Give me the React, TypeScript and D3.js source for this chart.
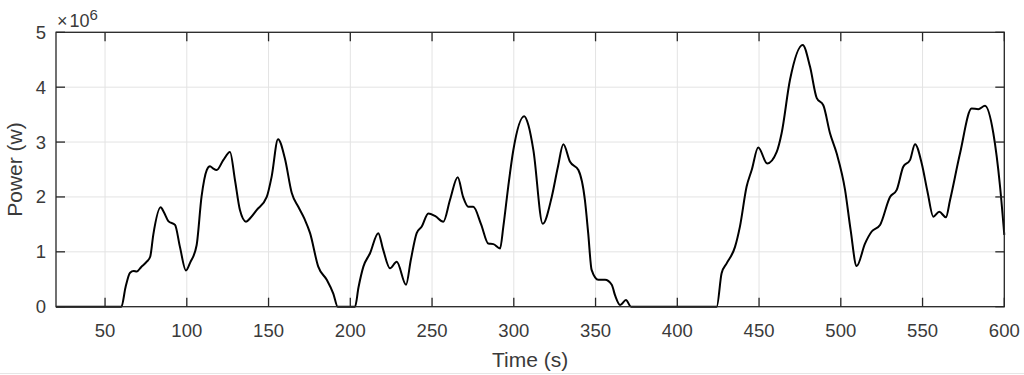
import React from "react";
import * as d3 from "d3";

// Time (s)
const timeS: number[] = [
  20, 60, 62.5, 65.3, 67.5, 69.4, 72, 75.5, 77.6, 79.5, 84, 86, 88.7, 92.8, 95.8, 99.5, 102, 106, 109, 112.2, 114.2, 116, 118.3, 122.3, 126.4, 129.5, 132.5, 136.2, 139, 142.7, 148.9, 151.9, 155.8, 160, 164.2, 168.2, 172, 175.4, 180.4, 185.6, 189.6, 192.3,
  202.9, 205, 208, 212, 217.1, 220, 224.3, 228.4, 234.1, 237, 240.6, 243.7, 247.7, 252, 256.9, 261, 265.7, 269, 272.2, 275.2, 280, 284.4, 287.5, 291.6, 293.6, 296.6, 299.7, 306.4, 309, 312, 317.7, 323.2, 327, 330.3, 334.4, 339.5, 343.5, 345.5, 347.6, 351.7, 355.8, 359.9, 362, 365, 368.6, 371.7,
  424.1, 427.1, 430.2, 435.3, 438.3, 442.4, 445.5, 449.5, 455, 460.8, 463.8, 468.9, 476.7, 481.2, 485.3, 489.3, 493.4, 497.5, 502.6, 506, 509.7, 514.8, 518.9, 524, 530.1, 534.2, 538.2, 542.3, 545.4, 549.5, 553, 556.6, 560.2, 564.3, 566.8, 572.9, 580, 584.1, 588.2, 593.3, 597.4, 600,
];

// Power (x 10^6 W)
const powerMW: number[] = [
  0, 0, 0.35, 0.62, 0.65, 0.64, 0.72, 0.82, 0.91, 1.31, 1.81, 1.72, 1.56, 1.49, 1.09, 0.66, 0.8, 1.12, 2.0, 2.49, 2.56, 2.52, 2.49, 2.67, 2.82, 2.3, 1.76, 1.55, 1.62, 1.76, 2.0, 2.37, 3.05, 2.7, 2.07, 1.82, 1.6, 1.34, 0.73, 0.49, 0.24, 0.0,
  0, 0.35, 0.73, 0.97, 1.34, 1.05, 0.7, 0.82, 0.4, 0.85, 1.34, 1.46, 1.7, 1.65, 1.55, 1.95, 2.36, 2.0, 1.82, 1.82, 1.5, 1.15, 1.14, 1.06, 1.46, 2.19, 2.85, 3.47, 3.3, 2.85, 1.51, 2.0, 2.55, 2.96, 2.64, 2.49, 1.94, 1.34, 0.67, 0.49, 0.49, 0.4, 0.2, 0.03, 0.12, 0,
  0, 0.61, 0.79, 1.09, 1.46, 2.19, 2.49, 2.9, 2.61, 2.82, 3.16, 4.13, 4.77, 4.37, 3.8, 3.67, 3.16, 2.79, 2.13, 1.4, 0.74, 1.15, 1.37, 1.49, 2.0, 2.13, 2.55, 2.67, 2.96, 2.61, 2.1, 1.64, 1.73, 1.63, 1.94, 2.79, 3.61, 3.6, 3.66, 3.16, 2.19, 1.31,
];

const xTicks: number[] = [50, 100, 150, 200, 250, 300, 350, 400, 450, 500, 550, 600];
const yTicks: number[] = [0, 1, 2, 3, 4, 5];
const xDomain: [number, number] = [20, 600];
const yDomain: [number, number] = [0, 5];
const xLabel = "Time (s)";
const yLabel = "Power (w)";

export default function App() {
  const W = 1024, H = 375;
  const L = 56, R = 1004.3, T = 32.3, B = 306.7;
  const x = d3.scaleLinear().domain(xDomain).range([L, R]);
  const y = d3.scaleLinear().domain(yDomain).range([B, T]);
  const pts: [number, number][] = timeS.map((t, i) => [t, powerMW[i]]);
  const line = d3
    .line<[number, number]>()
    .x((d) => x(d[0]))
    .y((d) => y(d[1]))
    .curve(d3.curveMonotoneX);
  const font = "'Liberation Sans', Arial, Helvetica, sans-serif";
  const axisColor = "#262626";
  const textColor = "#3a3a3a";
  const tickLen = 9;
  return (
    <svg
      width={W}
      height={H}
      style={{ position: "fixed", left: 0, top: 0, background: "#fff" }}
      fontFamily={font}
    >
      <rect x={0} y={0} width={W} height={H} fill="#fff" />
      {/* grid */}
      {xTicks.map((t) => (
        <line key={"gx" + t} x1={x(t)} x2={x(t)} y1={T} y2={B} stroke="#e3e3e3" strokeWidth={1} />
      ))}
      {yTicks.map((t) => (
        <line key={"gy" + t} x1={L} x2={R} y1={y(t)} y2={y(t)} stroke="#e3e3e3" strokeWidth={1} />
      ))}
      {/* data */}
      <path d={line(pts) || ""} fill="none" stroke="#000" strokeWidth={2} strokeLinejoin="round" />
      {/* box */}
      <rect x={L} y={T} width={R - L} height={B - T} fill="none" stroke={axisColor} strokeWidth={1.3} />
      {/* ticks */}
      {xTicks.map((t) => (
        <g key={"tx" + t}>
          <line x1={x(t)} x2={x(t)} y1={B} y2={B - tickLen} stroke={axisColor} strokeWidth={1.3} />
          <line x1={x(t)} x2={x(t)} y1={T} y2={T + tickLen} stroke={axisColor} strokeWidth={1.3} />
          <text x={x(t)} y={B + 30} textAnchor="middle" fontSize={18.5} fill={textColor}>
            {t}
          </text>
        </g>
      ))}
      {yTicks.map((t) => (
        <g key={"ty" + t}>
          <line x1={L} x2={L + tickLen} y1={y(t)} y2={y(t)} stroke={axisColor} strokeWidth={1.3} />
          <line x1={R} x2={R - tickLen} y1={y(t)} y2={y(t)} stroke={axisColor} strokeWidth={1.3} />
          <text x={L - 10} y={y(t) + 6.5} textAnchor="end" fontSize={18.5} fill={textColor}>
            {t}
          </text>
        </g>
      ))}
      {/* exponent */}
      <text x={57} y={26.5} fontSize={18} fill={textColor}>
        <tspan>×</tspan>
        <tspan dx={2}>10</tspan>
        <tspan dy={-7} fontSize={15}>6</tspan>
      </text>
      {/* labels */}
      <text x={(L + R) / 2} y={367} textAnchor="middle" fontSize={21} fill={textColor}>
        {xLabel}
      </text>
      <text
        transform={`translate(${22},${(T + B) / 2}) rotate(-90)`}
        textAnchor="middle"
        fontSize={21}
        fill={textColor}
      >
        {yLabel}
      </text>
      <line x1={0} x2={W} y1={373.5} y2={373.5} stroke="#e6e6e6" strokeWidth={1} />
    </svg>
  );
}
